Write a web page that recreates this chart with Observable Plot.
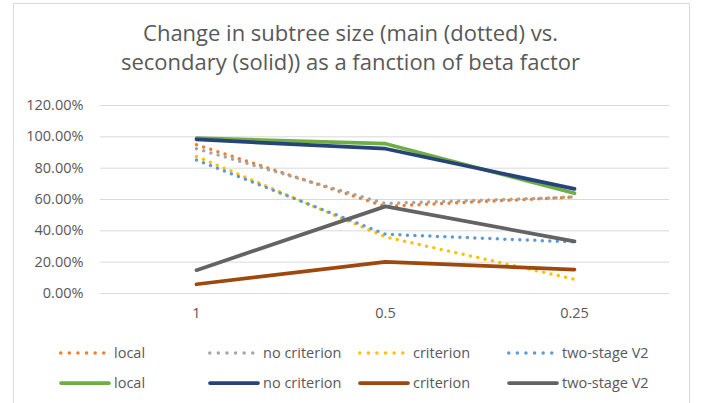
<!DOCTYPE html>
<html><head><meta charset="utf-8">
<script src="https://cdn.jsdelivr.net/npm/d3@7"></script>
<script src="https://cdn.jsdelivr.net/npm/@observablehq/plot@0.6"></script>
<style>
body{margin:0;background:#fff;font-family:"Open Sans",sans-serif;}
#wrap{position:relative;width:701px;height:403px;overflow:hidden;background:#fff;}
#frame{position:absolute;left:13px;top:3px;width:677px;height:440px;border:1px solid #d9d9d9;box-sizing:border-box;}
.tline{position:absolute;left:0;width:701px;text-align:center;color:#595959;font-size:22px;line-height:28.5px;white-space:nowrap;}
#chart{position:absolute;left:0;top:90px;}
.item{position:absolute;height:20px;color:#595959;font-size:14.5px;line-height:20px;white-space:nowrap;}
.item svg{position:absolute;left:0;top:5px;}
.item span{position:absolute;left:55px;top:0;}
</style>
</head><body>
<div id="wrap">
  <div id="frame"></div>
  <div class="tline" id="t1" style="top:18px">Change in subtree size (main (dotted) vs.</div>
  <div class="tline" id="t2" style="top:46.5px">secondary (solid)) as a fanction of beta factor</div>
  <div id="chart"></div>
  <div id="legend"></div>
</div>
<script>
const categories = ["1", "0.5", "0.25"];
const seriesNames = ["local", "no criterion", "criterion", "two-stage V2"];
const mainLocal       = [0.950, 0.556, 0.616];
const mainNoCriterion = [0.924, 0.574, 0.616];
const mainCriterion   = [0.875, 0.361, 0.091];
const mainTwoStage    = [0.852, 0.378, 0.329];
const secLocal        = [0.992, 0.956, 0.640];
const secNoCriterion  = [0.983, 0.924, 0.668];
const secCriterion    = [0.059, 0.202, 0.153];
const secTwoStage     = [0.149, 0.556, 0.333];
const yTicks = [0, 0.2, 0.4, 0.6, 0.8, 1.0, 1.2];

const mainColors = ["#ED7D31", "#A5A5A5", "#FFC000", "#5B9BD5"];
const secColors  = ["#70AD47", "#264478", "#9E480E", "#636363"];
const mainSeries = [mainLocal, mainNoCriterion, mainCriterion, mainTwoStage];
const secSeries  = [secLocal, secNoCriterion, secCriterion, secTwoStage];

const rows = vals => categories.map((c, i) => ({cat: c, value: vals[i]}));

const marks = [
  Plot.ruleY(yTicks, {stroke: "#d9d9d9", strokeWidth: 1}),
  Plot.axisY({ticks: yTicks, tickSize: 0, tickPadding: 17, tickFormat: d3.format(".2%"), fill: "#595959", fontSize: 14.5}),
  Plot.axisX({tickSize: 0, tickPadding: 14, fill: "#595959", fontSize: 14.5})
];
mainSeries.forEach((vals, i) => marks.push(
  Plot.line(rows(vals), {x: "cat", y: "value", stroke: mainColors[i], strokeWidth: 3.5,
    strokeDasharray: "0 7.5", strokeLinecap: "round", strokeLinejoin: "round"})));
secSeries.forEach((vals, i) => marks.push(
  Plot.line(rows(vals), {x: "cat", y: "value", stroke: secColors[i], strokeWidth: 3.75,
    strokeLinecap: "round", strokeLinejoin: "round"})));

const chart = Plot.plot({
  width: 701, height: 240,
  marginLeft: 100, marginRight: 32, marginTop: 15, marginBottom: 37,
  style: {fontFamily: "'Open Sans', sans-serif", fontSize: "14.5px", color: "#595959", background: "transparent"},
  x: {type: "point", domain: categories, padding: 0.5, label: null},
  y: {domain: [0, 1.2], label: null},
  marks
});
document.getElementById("chart").appendChild(chart);

// legend
const legend = document.getElementById("legend");
const colLefts = [59, 208, 358, 507];
const rowTops = [342.5, 373];
const ns = "http://www.w3.org/2000/svg";
function addItem(left, top, color, dotted, text) {
  const div = document.createElement("div");
  div.className = "item";
  div.style.left = left + "px";
  div.style.top = top + "px";
  const svg = document.createElementNS(ns, "svg");
  svg.setAttribute("width", 52); svg.setAttribute("height", 10);
  const ln = document.createElementNS(ns, "line");
  ln.setAttribute("y1", 5); ln.setAttribute("y2", 5);
  ln.setAttribute("stroke", color);
  ln.setAttribute("stroke-linecap", "round");
  if (dotted) {
    ln.setAttribute("x1", 1.75); ln.setAttribute("x2", 47);
    ln.setAttribute("stroke-width", 3.5);
    ln.setAttribute("stroke-dasharray", "0 8.6");
  } else {
    ln.setAttribute("x1", 2); ln.setAttribute("x2", 50);
    ln.setAttribute("stroke-width", 3.75);
  }
  svg.appendChild(ln);
  div.appendChild(svg);
  const sp = document.createElement("span");
  sp.textContent = text;
  div.appendChild(sp);
  legend.appendChild(div);
}
seriesNames.forEach((n, i) => addItem(colLefts[i], rowTops[0], mainColors[i], true, n));
seriesNames.forEach((n, i) => addItem(colLefts[i], rowTops[1], secColors[i], false, n));
</script>
</body></html>
